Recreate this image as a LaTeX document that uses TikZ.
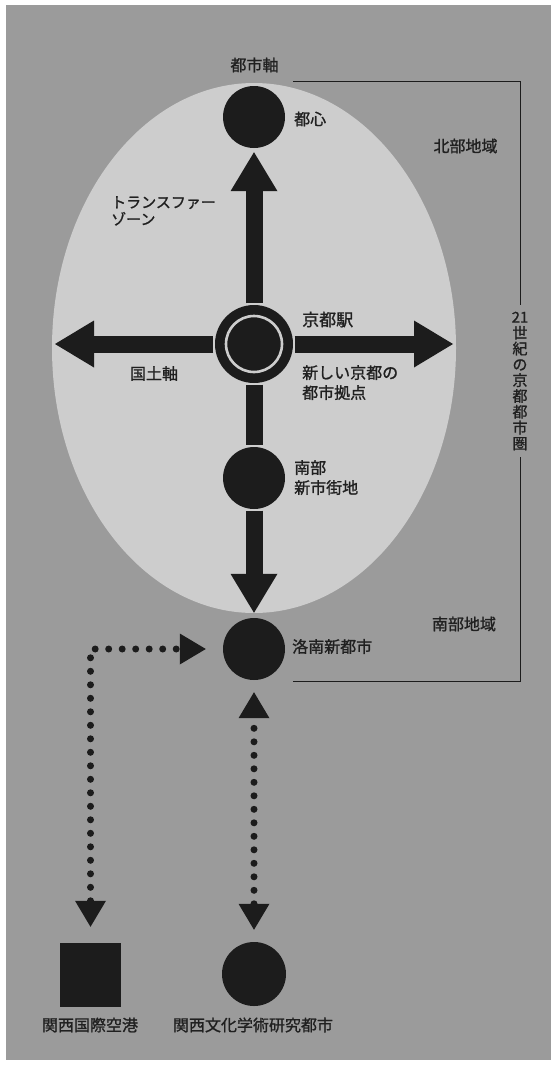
\documentclass[tikz,border=0pt]{standalone}
\usepackage{fontspec}
\newfontfamily\jpfont[FakeBold=1.2]{Noto Sans CJK JP}
\usetikzlibrary{arrows.meta}

\definecolor{bggray}{HTML}{9B9B9B}
\definecolor{zonegray}{HTML}{CDCDCD}
\definecolor{ink}{HTML}{1C1C1C}
\definecolor{txtgray}{HTML}{202020}

\begin{document}
\begin{tikzpicture}[
    x=1pt, y=-1pt,
    hub/.style={circle, fill=ink, minimum size=62pt, inner sep=0pt},
    station/.style={circle, fill=ink, minimum size=78pt, inner sep=0pt,
        path picture={\draw[zonegray, line width=2.6pt]
            (path picture bounding box.center) circle (28pt);}},
    airport/.style={fill=ink, minimum width=61pt, minimum height=64pt, inner sep=0pt},
    axisline/.style={ink, line width=17pt},
    bigtip/.style={-{Triangle[length=39pt, width=47pt, line width=0pt]}},
    dotline/.style={ink, line width=7pt, line cap=round, dash pattern=on 0pt off 13.5pt},
    dottips/.style={{Triangle[length=26pt, width=31pt, line width=0pt]}-{Triangle[length=26pt, width=31pt, line width=0pt]}},
    bracket/.style={ink, line width=1pt},
    lbl/.style={text=txtgray, inner sep=0pt, font=\jpfont\fontsize{16}{20}\selectfont},
    vlbl/.style={text=txtgray, fill=bggray, align=center, inner xsep=3pt, inner ysep=7pt,
        font=\jpfont\fontsize{15}{15.8}\selectfont}
]

% Page and background
\useasboundingbox (0,0) rectangle (551,1065);
\fill[bggray] (6,5) rectangle (551,1060);

% Transfer zone
\fill[zonegray] (254,348) ellipse [x radius=202, y radius=265];

% ============================================================
% Centres
% ============================================================
\node[hub] (toshin) at (254,117) {};
\node[station] (eki) at (254,344) {};
\node[hub] (nanbu) at (254,478) {};
\node[hub] (rakunan) at (254,649) {};
\node[hub, minimum size=64pt] (gakken) at (254,974) {};
\node[airport] (kuko) at (90.5,975) {};

\coordinate (westend) at (55,344);
\coordinate (eastend) at (453,344);

% ============================================================
% Axes
% ============================================================
\draw[axisline, bigtip, shorten <=1.5pt, shorten >=4pt] (eki) -- (toshin);
\draw[axisline, bigtip, shorten <=1.5pt] (eki) -- (westend);
\draw[axisline, bigtip, shorten <=1.5pt] (eki) -- (eastend);
\draw[axisline, shorten <=1.5pt, shorten >=1.5pt] (eki) -- (nanbu);
\draw[axisline, bigtip, shorten <=1.5pt, shorten >=5pt] (nanbu) -- (rakunan);

% Dotted links
\draw[dotline, dottips, shorten <=16pt, shorten >=17pt] (kuko) |- (rakunan);
\draw[dotline, dottips, shorten <=12pt, shorten >=12pt] (gakken) -- (rakunan);

% Region bracket
\draw[bracket] (293,81.5) -- (520,81.5) -- (520,681) -- (293,681);

% ============================================================
% Labels
% ============================================================
\node[lbl] (toshiaxis) at (254.5,65) {都市軸};
\node[lbl, anchor=west] (toshinlbl) at (294,119) {都心};
\node[lbl] (hokubu) at (465.5,146) {北部地域};
\node[lbl, anchor=north west, align=left, font=\jpfont\fontsize{15}{17}\selectfont]
    (transfer) at (111,196) {トランスファー\\ゾーン};
\node[lbl, anchor=west, font=\jpfont\fontsize{17}{20}\selectfont] (ekilbl) at (302,319.5) {京都駅};
\node[lbl, anchor=north west, align=left] (kyoten) at (302,365) {新しい京都の\\都市拠点};
\node[lbl] (kokudo) at (154,373.5) {国土軸};
\node[lbl, anchor=north west, align=left] (nanbulbl) at (294,460) {南部\\新市街地};
\node[lbl, anchor=west] (rakunanlbl) at (292,646.5) {洛南新都市};
\node[lbl] (nanburegion) at (464,624) {南部地域};
\node[lbl] (kukolbl) at (90,1025) {関西国際空港};
\node[lbl] (gakkenlbl) at (253,1025) {関西文化学術研究都市};
\node[vlbl] (kenlbl) at (520,381) {21\\世\\紀\\の\\京\\都\\都\\市\\圏};
\end{tikzpicture}
\end{document}
